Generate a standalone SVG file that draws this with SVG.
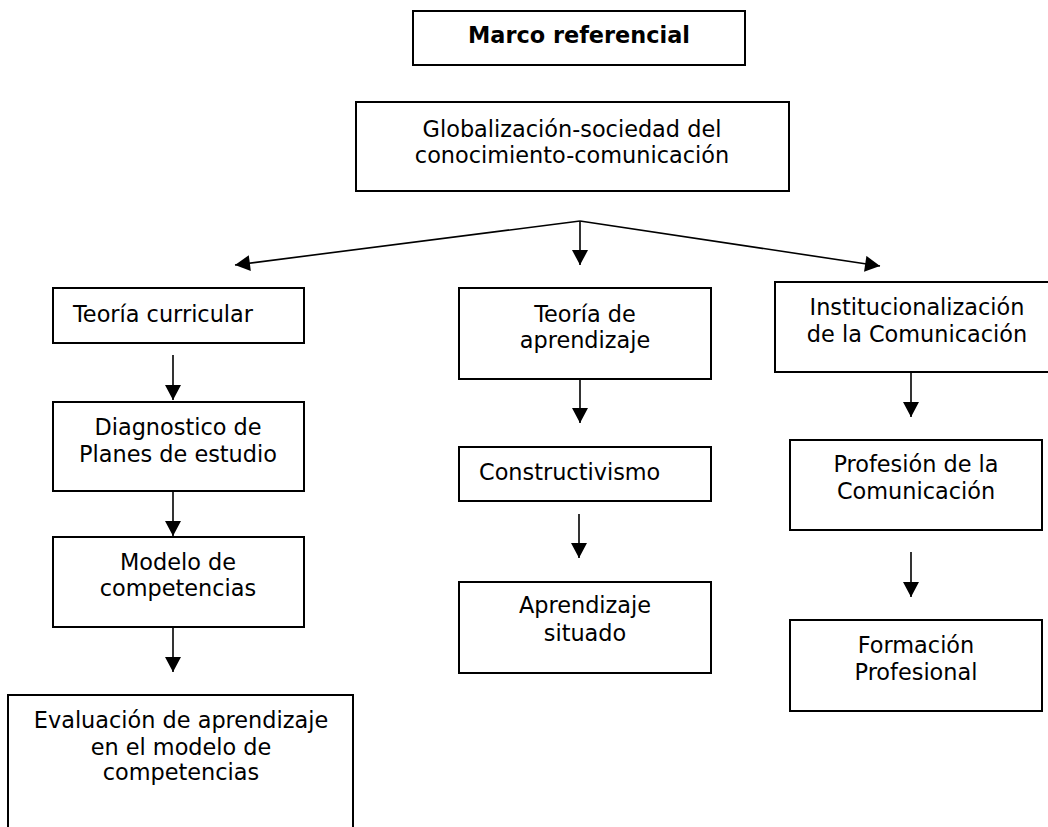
<svg xmlns="http://www.w3.org/2000/svg" width="1048" height="827" viewBox="0 0 1048 827">
<style>
.box{fill:#fff;stroke:#000;stroke-width:2}
.t{font-family:"DejaVu Sans","Verdana",sans-serif;font-size:22.4px;fill:#000}
.c{text-anchor:middle}
.b{font-weight:bold}
.con{stroke:#000;stroke-width:1.6;fill:none}
</style>
<defs>
<marker id="ah" markerUnits="userSpaceOnUse" markerWidth="16" markerHeight="16" refX="14" refY="7.5" orient="auto" viewBox="0 0 14 15">
<path d="M0,0 L14,7.5 L0,15 Z" fill="#000"/>
</marker>
</defs>
<rect width="1048" height="827" fill="#fff"/>
<g id="connectors">
<line class="con" x1="580" y1="221" x2="235" y2="265" marker-end="url(#ah)"/>
<line class="con" x1="580" y1="221" x2="580" y2="265" marker-end="url(#ah)"/>
<line class="con" x1="580" y1="221" x2="880" y2="266" marker-end="url(#ah)"/>
<line class="con" x1="173" y1="355" x2="173" y2="400" marker-end="url(#ah)"/>
<line class="con" x1="173" y1="491" x2="173" y2="536" marker-end="url(#ah)"/>
<line class="con" x1="173" y1="627" x2="173" y2="672" marker-end="url(#ah)"/>
<line class="con" x1="580" y1="379" x2="580" y2="423" marker-end="url(#ah)"/>
<line class="con" x1="579" y1="514" x2="579" y2="558" marker-end="url(#ah)"/>
<line class="con" x1="911" y1="372" x2="911" y2="417" marker-end="url(#ah)"/>
<line class="con" x1="911" y1="552" x2="911" y2="597" marker-end="url(#ah)"/>
</g>
<g id="n-marco">
<rect class="box" x="413" y="11" width="332" height="54"/>
<text class="t c b" x="579" y="43">Marco referencial</text>
</g>
<g id="n-global">
<rect class="box" x="356" y="102" width="433" height="89"/>
<text class="t c" x="572" y="137">Globalización-sociedad del</text>
<text class="t c" x="572" y="163">conocimiento-comunicación</text>
</g>
<g id="n-teoriacurr">
<rect class="box" x="53" y="288" width="251" height="55"/>
<text class="t" x="73" y="322">Teoría curricular</text>
</g>
<g id="n-diag">
<rect class="box" x="53" y="402" width="251" height="89"/>
<text class="t c" x="178" y="435">Diagnostico de</text>
<text class="t c" x="178" y="462">Planes de estudio</text>
</g>
<g id="n-modelo">
<rect class="box" x="53" y="537" width="251" height="90"/>
<text class="t c" x="178" y="570">Modelo de</text>
<text class="t c" x="178" y="596">competencias</text>
</g>
<g id="n-eval">
<path class="box" d="M8,840 L8,695 L353,695 L353,840"/>
<text class="t c" x="181" y="728">Evaluación de aprendizaje</text>
<text class="t c" x="181" y="755">en el modelo de</text>
<text class="t c" x="181" y="780">competencias</text>
</g>
<g id="n-teoriaapr">
<rect class="box" x="459" y="288" width="252" height="91"/>
<text class="t c" x="585" y="322">Teoría de</text>
<text class="t c" x="585" y="348">aprendizaje</text>
</g>
<g id="n-constr">
<rect class="box" x="459" y="447" width="252" height="54"/>
<text class="t" x="479" y="480">Constructivismo</text>
</g>
<g id="n-situado">
<rect class="box" x="459" y="582" width="252" height="91"/>
<text class="t c" x="585" y="613">Aprendizaje</text>
<text class="t c" x="585" y="641">situado</text>
</g>
<g id="n-instit">
<rect class="box" x="775" y="282" width="285" height="90"/>
<text class="t c" x="917" y="315">Institucionalización</text>
<text class="t c" x="917" y="342">de la Comunicación</text>
</g>
<g id="n-profesion">
<rect class="box" x="790" y="440" width="252" height="90"/>
<text class="t c" x="916" y="472">Profesión de la</text>
<text class="t c" x="916" y="499">Comunicación</text>
</g>
<g id="n-formacion">
<rect class="box" x="790" y="620" width="252" height="91"/>
<text class="t c" x="916" y="653">Formación</text>
<text class="t c" x="916" y="680">Profesional</text>
</g>
</svg>
